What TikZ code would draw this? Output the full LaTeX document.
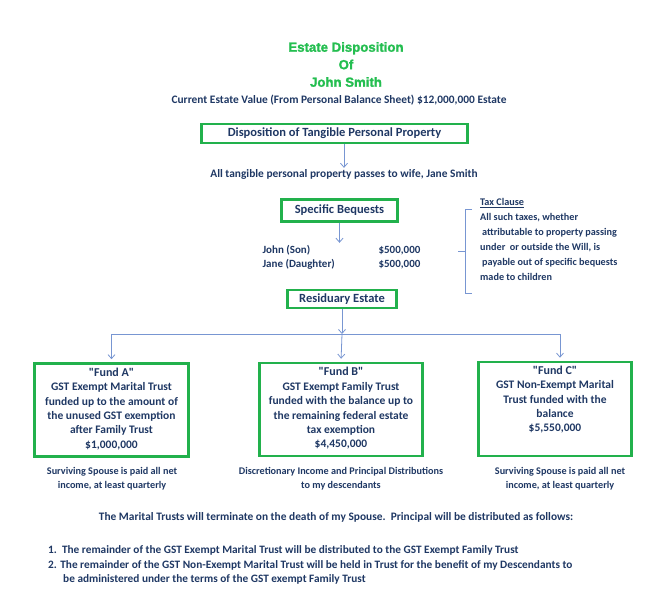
\documentclass[tikz,border=0pt]{standalone}
\usepackage{fontspec}
\setmainfont{Carlito}[Ligatures=TeXOff]
\newfontfamily\titlefont[BoldFeatures={FakeBold=1.6}]{Liberation Sans}
\usetikzlibrary{positioning,arrows.meta}

\definecolor{navy}{RGB}{31,56,100}
\definecolor{boxgreen}{RGB}{34,177,76}
\definecolor{titlegreen}{RGB}{36,190,80}
\definecolor{linkblue}{RGB}{120,150,210}

\tikzset{
  greenbox/.style={draw=boxgreen, line width=2.6pt, text=navy, inner sep=0pt,
    font=\fontsize{12.5}{14}\selectfont\bfseries},
  plain/.style={text=navy, inner sep=1pt, align=center,
    font=\fontsize{11.4}{14}\selectfont\bfseries},
  fundtext/.style={text=navy, inner sep=1pt, align=center,
    font=\fontsize{11.5}{14.4}\selectfont\bfseries},
  link/.style={draw=linkblue, line width=0.8pt, -{Straight Barb[length=4pt,width=7pt]}},
  bracket/.style={draw=linkblue, line width=0.8pt},
}

\begin{document}
\begin{tikzpicture}[x=1pt, y=-1pt]
	\useasboundingbox[fill=white] (0,0) rectangle (667,592);

	% heading
	\node[text=titlegreen, align=center, inner sep=0pt,
	      font=\titlefont\fontsize{13.2}{17.5}\selectfont\bfseries] (title) at (346,64.5)
	      {Estate Disposition\\Of\\John Smith};
	\node[plain] (value) at (339,100) {Current Estate Value (From Personal Balance Sheet) \$12,000,000 Estate};

	% tangible property
	\node[greenbox, minimum width=266, minimum height=19] (tangible) at (334.5,133.5) {Disposition of Tangible Personal Property};
	\node[plain] (wife) at (344,174) {All tangible personal property passes to wife, Jane Smith};

	% bequests
	\node[greenbox, minimum width=116, minimum height=22] (bequests) at (339.5,210.5) {Specific Bequests};
	\node[plain, align=left, font=\fontsize{11}{14}\selectfont\bfseries] (gifts) at (341.5,258)
	      {\begin{tabular}{@{}p{116pt}@{}l@{}}John (Son) & \$500,000\\Jane (Daughter) & \$500,000\end{tabular}};

	% tax clause
	\node[plain, align=left, anchor=north west, font=\fontsize{10.2}{15}\selectfont\bfseries] (taxclause) at (479,197)
	      {\underline{Tax Clause}\\All such taxes, whether\\\hspace*{2pt}attributable to property passing\\under\ \ or outside the Will, is\\\hspace*{2pt}payable out of specific bequests\\made to children};
	\draw[bracket] (472,209) -- (465,209) -- (465,293) -- (472,293);
	\draw[bracket] (465,251) -- (458,251);

	% residuary
	\node[greenbox, minimum width=109, minimum height=18] (resid) at (342,299) {Residuary Estate};
	\coordinate (bar) at (342,334);

	% funds
	\node[greenbox, minimum width=154, minimum height=93] (fundA) at (111.5,410) {};
	\node[greenbox, minimum width=163, minimum height=93] (fundB) at (341,409.5) {};
	\node[greenbox, minimum width=153, minimum height=94] (fundC) at (555,409) {};

	\node[fundtext, below=4.5pt of fundA.north] (fundAtxt)
	      {{\fontsize{12}{14.4}\selectfont "Fund A"}\\GST Exempt Marital Trust\\funded up to the amount of\\the unused GST exemption\\after Family Trust\\\$1,000,000};
	\node[fundtext, below=4.5pt of fundB.north] (fundBtxt)
	      {{\fontsize{12}{14.4}\selectfont "Fund B"}\\GST Exempt Family Trust\\funded with the balance up to\\the remaining federal estate\\tax exemption\\\$4,450,000};
	\node[fundtext, below=4pt of fundC.north] (fundCtxt)
	      {{\fontsize{12}{14.4}\selectfont "Fund C"}\\GST Non-Exempt Marital\\Trust funded with the\\balance\\\$5,550,000};

	\node[plain, font=\fontsize{10.2}{14}\selectfont\bfseries] (noteA) at (112,479) {Surviving Spouse is paid all net\\income, at least quarterly};
	\node[plain, font=\fontsize{10.2}{14}\selectfont\bfseries] (noteB) at (341,479) {Discretionary Income and Principal Distributions\\to my descendants};
	\node[plain, font=\fontsize{10.2}{14}\selectfont\bfseries] (noteC) at (560,479) {Surviving Spouse is paid all net\\income, at least quarterly};

	% connectors
	\draw[link] (tangible.south -| wife.north) -- (wife.north);
	\draw[link] (bequests.south) -- (bequests.south |- gifts.north);
	\draw[link] (resid.south) -- (bar);
	\draw[link, shorten >=3pt] (bar) -| (fundA.north);
	\draw[link, shorten >=3pt] (bar) -- (fundB.north);
	\draw[link, shorten >=3pt] (bar) -| ([xshift=5pt]fundC.north);

	% closing terms
	\node[plain] (marital) at (336,517) {The Marital Trusts will terminate on the death of my Spouse.\ \ Principal will be distributed as follows:};
	\node[plain, align=left, anchor=west, font=\fontsize{11.3}{14.5}\selectfont\bfseries] (terms) at (47,565)
	      {1.\ \ The remainder of the GST Exempt Marital Trust will be distributed to the GST Exempt Family Trust\\2. The remainder of the GST Non-Exempt Marital Trust will be held in Trust for the benefit of my Descendants to\\\hspace*{15pt}be administered under the terms of the GST exempt Family Trust};
\end{tikzpicture}
\end{document}
